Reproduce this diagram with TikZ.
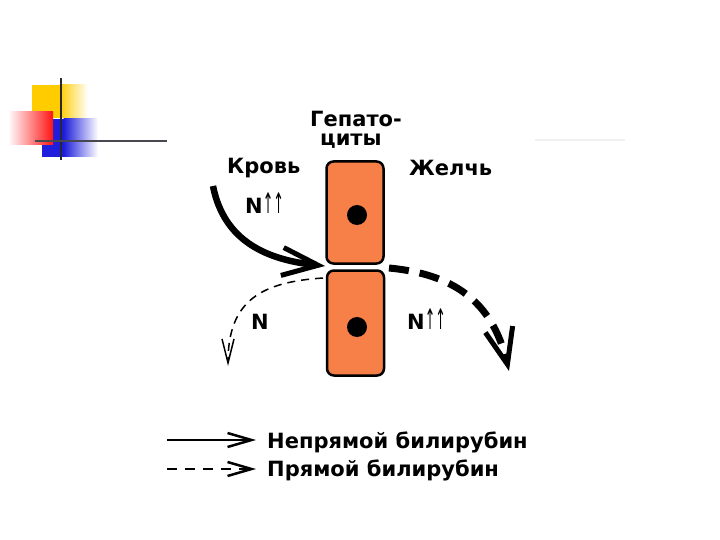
\documentclass[tikz,border=0pt]{standalone}
\usepackage{fontspec}
\setmainfont{DejaVu Sans}
\newfontfamily\arrfont{DejaVu Sans}
\usetikzlibrary{arrows.meta}
\definecolor{cellorange}{RGB}{246,128,72}
\definecolor{decyellow}{RGB}{255,204,0}
\definecolor{decred}{RGB}{255,20,20}
\definecolor{decblue}{RGB}{30,30,220}
\definecolor{decline}{RGB}{40,40,50}
\begin{document}
\begin{tikzpicture}[x=1pt,y=-1pt,
  cell/.style={draw=black, line width=2.5pt, fill=cellorange, rounded corners=7pt,
    minimum width=57pt, inner sep=0pt},
  nucleus/.style={circle, fill=black, minimum size=20pt, inner sep=0pt},
  lbl/.style={font=\bfseries\fontsize{21}{23}\selectfont, inner sep=0pt},
  nlbl/.style={font=\bfseries\fontsize{21}{23}\selectfont, inner sep=0pt},
  solidarrow/.style={line width=6.5pt, -{Straight Barb[length=36pt,width=28pt,line width=5pt]}},
  thindash/.style={line width=1.5pt, dash pattern=on 8pt off 6pt,
    -{Straight Barb[length=24pt,width=12pt,line width=1.5pt]}},
  thickdash/.style={line width=7pt, dash pattern=on 20pt off 11pt,
    -{Straight Barb[length=36pt,width=28pt,line width=5pt]}},
  legsolid/.style={line width=2pt, -{Straight Barb[length=24pt,width=14pt,line width=2.5pt]}},
  legdash/.style={line width=2pt, dash pattern=on 10pt off 8pt,
    -{Straight Barb[length=24pt,width=14pt,line width=2.5pt]}}]
\useasboundingbox (0,0) rectangle (720,540);
% decoration top-left
\fill[decyellow] (32,85) rectangle (60,118);
\shade[left color=decyellow, right color=white] (59.5,85) rectangle (88,118);
\fill[decblue] (42,119) rectangle (64,157);
\shade[left color=decblue, right color=white] (63.5,119) rectangle (98,157);
\shade[left color=white, right color=decred] (8,112) rectangle (53,145);
\draw[decline, line width=2pt] (61,78) -- (61,160);
\draw[decline!85, line width=2pt] (35,141) -- (167,141);
\draw[black!6, line width=1.5pt] (535,140) -- (625,140);
% cells
\node[cell, minimum height=102pt] (cellA) at (355,212.5) {};
\node[cell, minimum height=105pt] (cellB) at (355.5,323) {};
\node[nucleus] (nucA) at (357,215) {};
\node[nucleus] (nucB) at (357,327) {};
% labels
\node[lbl, anchor=base west] (hep1) at (310,127) {Гепато-};
\node[lbl, anchor=base west] (hep2) at (320,146) {циты};
\node[lbl, anchor=base west] (blood) at (227,174) {Кровь};
\node[lbl, anchor=base west] (bile) at (409,176) {Желчь};
\node[nlbl, anchor=base west] (n1) at (245,214) {N{\arrfont\mdseries\scalebox{0.6}[1.35]{↑↑}}};
\node[nlbl, anchor=base west] (n2) at (251,329) {N};
\node[nlbl, anchor=base west] (n3) at (407,329) {N{\arrfont\mdseries\scalebox{0.6}[1.35]{↑↑}}};
% connector points
\coordinate (bloodstart) at (213,186);
\coordinate (gapL) at (325,266);
\coordinate (dashstart) at (323,278);
\coordinate (dashend) at (228,366);
\coordinate (gapR) at (389,268);
\coordinate (bileend) at (509,371);
% arrows
\draw[solidarrow] (bloodstart) .. controls (224,242) and (268,260) .. (gapL);
\draw[thindash] (dashstart) .. controls (262,282) and (228,300) .. (dashend);
\draw[thickdash] (gapR) .. controls (452,274) and (492,300) .. (bileend);
% legend
\coordinate (l1a) at (167,440);
\coordinate (l1b) at (256,440);
\coordinate (l2a) at (167,469);
\coordinate (l2b) at (256,469);
\draw[legsolid] (l1a) -- (l1b);
\draw[legdash] (l2a) -- (l2b);
\node[lbl, anchor=base west] (leg1) at (267,448) {Непрямой билирубин};
\node[lbl, anchor=base west] (leg2) at (267,476) {Прямой билирубин};
\end{tikzpicture}
\end{document}
